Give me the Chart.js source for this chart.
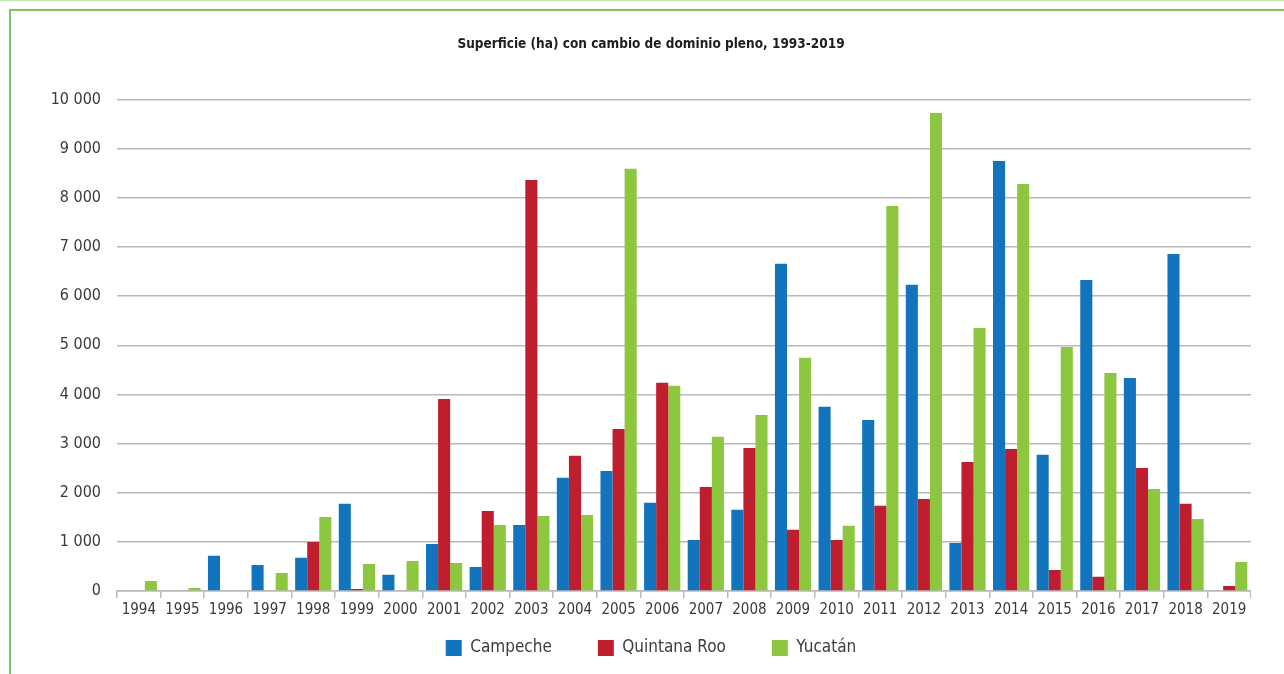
<!DOCTYPE html>
<html>
<head>
<meta charset="utf-8">
<script src="https://cdn.jsdelivr.net/npm/chart.js@4.4.1/dist/chart.umd.min.js"></script>
<style>
  html, body { margin: 0; padding: 0; background: #fff; overflow: hidden; }
  #page { position: relative; width: 1284px; height: 674px; overflow: hidden; }
  .topline { position: absolute; left: 0; top: 0; width: 1284px; height: 1px; background: #c3e4b0; }
  .frame { position: absolute; left: 9px; top: 9px; right: 0; bottom: 0;
           border-left: 2px solid #80c660; border-top: 2px solid #80c660; }
  #chart { position: absolute; left: 0; top: 0; }
</style>
</head>
<body>
<div id="page">
  <div class="topline"></div>
  <div class="frame"></div>
  <canvas id="chart" width="1251" height="692"></canvas>
</div>
<script>
const years = ["1994", "1995", "1996", "1997", "1998", "1999", "2000", "2001", "2002", "2003",
  "2004", "2005", "2006", "2007", "2008", "2009", "2010", "2011", "2012", "2013",
  "2014", "2015", "2016", "2017", "2018", "2019"];

const campeche = [0, 0, 715, 530, 674, 1774, 330, 956, 488, 1341,
  2304, 2441, 1795, 1039, 1651, 6657, 3748, 3480, 6231, 977,
  8748, 2772, 6327, 4333, 6857, 0];

const quintanaRoo = [0, 0, 0, 0, 997, 41, 0, 3906, 1630, 8363,
  2751, 3294, 4237, 2118, 2909, 1245, 1039, 1733, 1871, 2627,
  2889, 426, 289, 2503, 1774, 103];

const yucatan = [206, 62, 0, 365, 1506, 550, 612, 571, 1341, 1527,
  1547, 8590, 4175, 3136, 3583, 4746, 1327, 7833, 9725, 5351,
  8281, 4966, 4436, 2077, 1465, 591];

const narrow = "'DejaVu Sans Condensed', 'DejaVu Sans', sans-serif";
const gridGrey = "#b9b9b9";

// thousands with a space, like the original ("10 000")
function fmtThousands(v) {
  return v >= 1000 ? Math.floor(v / 1000) + " " + String(v % 1000).padStart(3, "0") : String(v);
}

// legend needs wide gaps between items but sits close under the axis labels
const legendNudge = {
  id: "legendNudge",
  afterLayout(chart) {
    chart.legend.top -= 25.5;
    chart.legend.bottom -= 25.5;
  }
};

new Chart(document.getElementById("chart"), {
  type: "bar",
  data: {
    labels: years,
    datasets: [
      { label: "Campeche", data: campeche, backgroundColor: "#1274bc" },
      { label: "Quintana Roo", data: quintanaRoo, backgroundColor: "#be1e2d" },
      { label: "Yucatán", data: yucatan, backgroundColor: "#8dc63f" }
    ]
  },
  plugins: [legendNudge],
  options: {
    responsive: false,
    animation: false,
    devicePixelRatio: 1,
    datasets: { bar: { categoryPercentage: 0.83, barPercentage: 1 } },
    layout: { padding: { left: 51, right: 0, top: 0, bottom: 0 } },
    plugins: {
      tooltip: { enabled: false },
      title: {
        display: true,
        text: "Superficie (ha) con cambio de dominio pleno, 1993-2019",
        color: "#1e1e1e",
        font: { family: narrow, size: 13.5, weight: "bold" },
        padding: { top: 35.9, bottom: 47.4 }
      },
      legend: {
        position: "bottom",
        labels: {
          boxWidth: 16,
          boxHeight: 16,
          padding: 46,
          color: "#3c3c3c",
          font: { family: narrow, size: 17 }
        }
      }
    },
    scales: {
      x: {
        grid: { drawOnChartArea: false, drawTicks: true, tickLength: 7, color: gridGrey, lineWidth: 1.5, offset: true },
        border: { display: true, color: gridGrey, width: 1.5 },
        ticks: { color: "#3a3a3a", font: { family: narrow, size: 15 }, padding: 3, maxRotation: 0, autoSkip: false },
        afterFit(scale) { scale.height = 28; }
      },
      y: {
        min: 0,
        max: 10000,
        grid: { color: gridGrey, lineWidth: 1.5, drawTicks: false },
        border: { display: false },
        ticks: {
          stepSize: 1000,
          padding: 16,
          color: "#3a3a3a",
          font: { family: narrow, size: 16 },
          callback: v => fmtThousands(v)
        },
        afterFit(scale) { scale.width = 66; }
      }
    }
  }
});
</script>
</body>
</html>
